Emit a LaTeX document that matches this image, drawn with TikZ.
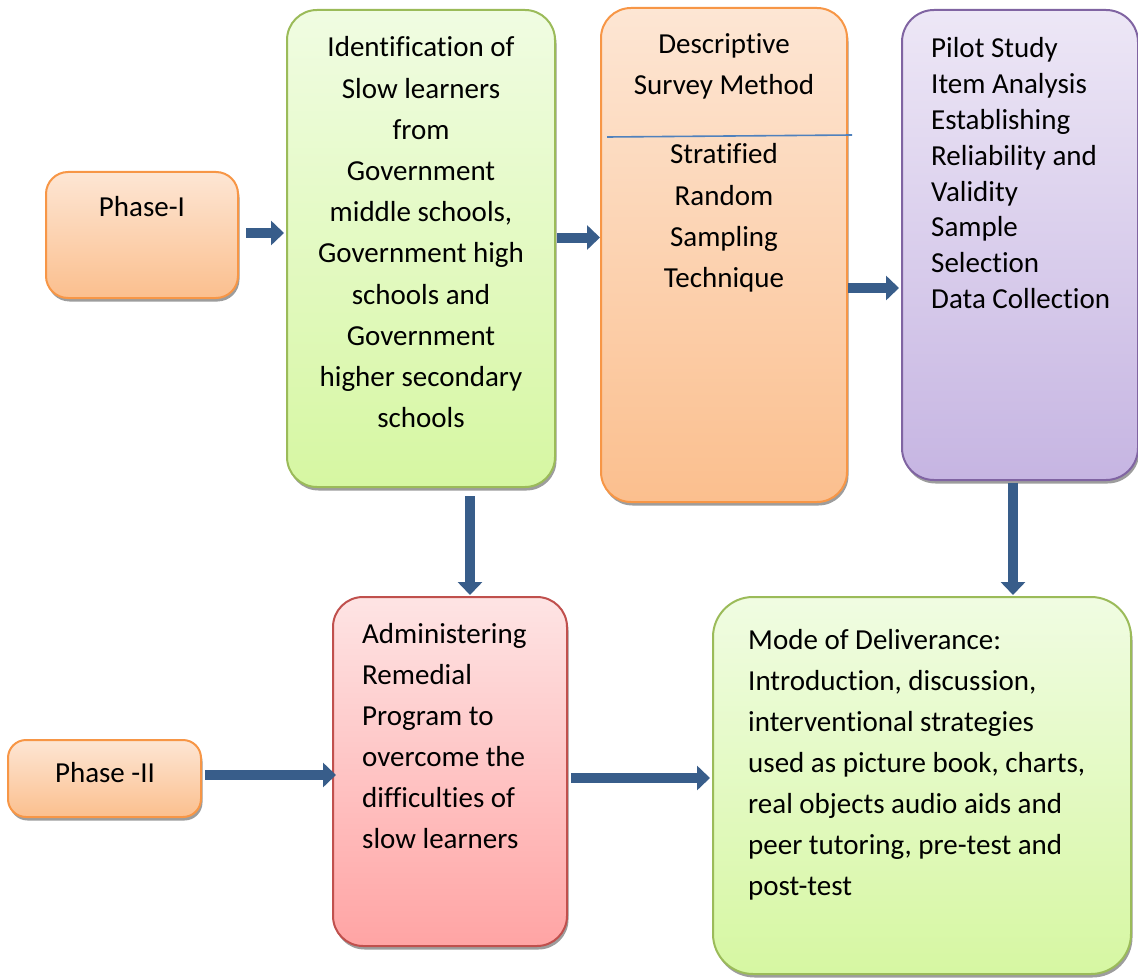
\documentclass[tikz,border=0pt]{standalone}
\usepackage{fontspec}
\setmainfont[Ligatures={NoCommon}]{Carlito}
\usetikzlibrary{arrows.meta,shadows,calc}
\definecolor{orbd}{HTML}{F79646}
\definecolor{ortop}{HTML}{FDE6D4}
\definecolor{orbot}{HTML}{FBBF8E}
\definecolor{grbd}{HTML}{9BBB59}
\definecolor{grtop}{HTML}{F0FCE2}
\definecolor{grbot}{HTML}{D6F7A2}
\definecolor{pubd}{HTML}{8064A2}
\definecolor{putop}{HTML}{EDE7F6}
\definecolor{pubot}{HTML}{C6B5E2}
\definecolor{rdbd}{HTML}{C0504D}
\definecolor{rdtop}{HTML}{FEE4E4}
\definecolor{rdbot}{HTML}{FFA4A4}
\definecolor{arr}{HTML}{385D8A}
\definecolor{sepline}{HTML}{4F81BD}
\tikzset{
  boxbase/.style={rectangle, line width=2pt, inner sep=0pt,
    drop shadow={shadow xshift=1.5pt, shadow yshift=-3.5pt, fill=black!45, opacity=0.85}},
  orbox/.style={boxbase, draw=orbd, top color=ortop, bottom color=orbot},
  grbox/.style={boxbase, draw=grbd, top color=grtop, bottom color=grbot},
  pubox/.style={boxbase, draw=pubd, top color=putop, bottom color=pubot},
  rdbox/.style={boxbase, draw=rdbd, top color=rdtop, bottom color=rdbot},
  txtc/.style={inner sep=0pt, align=center, font=\fontsize{29}{41.2}\selectfont},
  txtl/.style={inner sep=0pt, align=left, font=\fontsize{29}{41}\selectfont},
  txtp/.style={inner sep=0pt, align=left, font=\fontsize{29}{35.8}\selectfont},
  blk/.style={draw=arr, line width=10pt, -{Triangle[width=24pt,length=13pt]}},
}
\begin{document}
\begin{tikzpicture}[x=1pt,y=-1pt]
\useasboundingbox (0,0) rectangle (1138,979);
% boxes
\node[orbox, rounded corners=22pt, minimum width=192pt, minimum height=126pt] (p1) at (142,235) {};
\node[grbox, rounded corners=30pt, minimum width=268pt, minimum height=477pt] (g1) at (421,248.5) {};
\node[orbox, rounded corners=30pt, minimum width=246pt, minimum height=494pt] (o2) at (724,255) {};
\node[pubox, rounded corners=32pt, minimum width=236pt, minimum height=470pt] (pu) at (1020,245) {};
\node[orbox, rounded corners=18pt, minimum width=193pt, minimum height=77pt] (p2) at (104.5,778.5) {};
\node[rdbox, rounded corners=30pt, minimum width=234pt, minimum height=349pt] (rd) at (450,771.5) {};
\node[grbox, rounded corners=40pt, minimum width=418pt, minimum height=377pt] (g2) at (922,785.5) {};
% texts
\node[txtc, anchor=north] (tp1) at (142,196.5) {Phase-I};
\node[txtc, anchor=north] (tg1) at (421,36.5) {Identification of\\Slow learners\\from\\Government\\middle schools,\\Government high\\schools and\\Government\\higher secondary\\schools};
\node[txtc, anchor=north] (to2a) at (724,33.5) {Descriptive\\Survey Method};
\node[txtc, anchor=north] (to2b) at (724,143.5) {Stratified\\Random\\Sampling\\Technique};
\node[txtp, anchor=north west] (tpu) at (931,37.5) {Pilot Study\\Item Analysis\\Establishing\\Reliability and\\Validity\\Sample\\Selection\\Data Collection};
\node[txtc, anchor=north] (tp2) at (105,762.5) {Phase -II};
\node[txtl, anchor=north west] (trd) at (362,623.5) {Administering\\Remedial\\Program to\\overcome the\\difficulties of\\slow learners};
\node[txtl, anchor=north west] (tg2) at (748,629.5) {Mode of Deliverance:\\Introduction, discussion,\\interventional strategies\\used as picture book, charts,\\real objects audio aids and\\peer tutoring, pre-test and\\post-test};
% separator line in orange box
\coordinate (sa) at (607,137);
\coordinate (sb) at (852,135);
\draw[sepline, line width=1.6pt] (sa) -- (sb);
% arrows
\draw[blk, shorten <=7pt, shorten >=2pt] ([yshift=2pt]p1.east) -- ([yshift=2pt]p1.east -| g1.west);
\draw[blk, shorten <=1pt, shorten >=0pt] ([yshift=11pt]g1.east) -- ([yshift=11pt]g1.east -| o2.west);
\draw[blk, shorten <=0pt, shorten >=2pt] ([yshift=-33pt]o2.east) -- ([yshift=-33pt]o2.east -| pu.west);
\draw[blk, shorten <=8pt, shorten >=1pt] ([xshift=49pt]g1.south) -- ([xshift=49pt]g1.south |- rd.north);
\draw[blk, shorten <=2pt, shorten >=1pt] ([xshift=-7pt]pu.south) -- ([xshift=-7pt]pu.south |- g2.north);
\draw[blk, shorten <=3pt, shorten >=-4pt] ([yshift=3.5pt]p2.east) -- ([yshift=3.5pt]p2.east -| rd.west);
\draw[blk, shorten <=3pt, shorten >=2pt] ([yshift=-6.5pt]rd.east) -- ([yshift=-6.5pt]rd.east -| g2.west);
\end{tikzpicture}
\end{document}
